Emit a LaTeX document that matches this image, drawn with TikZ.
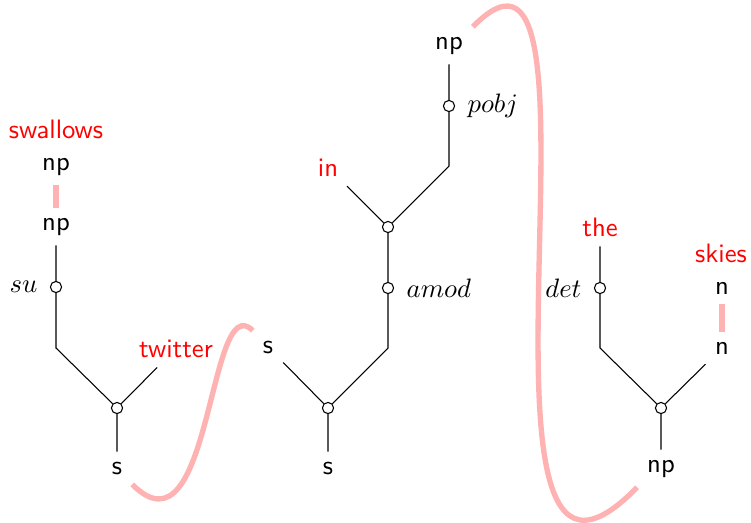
\documentclass[tikz,border=0pt]{standalone}
\usetikzlibrary{calc}
\tikzset{
  x=0.375pt, y=-0.375pt,
  word/.style={font=\sffamily, inner sep=3.6pt, anchor=base},
  redword/.style={word, text=red},
  dot/.style={circle, draw, fill=white, inner sep=0pt, minimum size=4.2pt, line width=0.4pt},
  lblL/.style={anchor=east, inner sep=0pt},
  lblR/.style={anchor=west, inner sep=0pt},
  tree/.style={line width=0.4pt},
  link/.style={draw=red!30, line width=2pt},
}
\begin{document}
\begin{tikzpicture}
\useasboundingbox (0,0) rectangle (751,522);
% ---------- left tree ----------
\node[redword] (swallows) at (56,138) {swallows};
\node[word] (np1) at (56,170) {np};
\node[word] (np2) at (56,230) {np};
\node[dot] (su) at (56,287) {};
\coordinate (k1) at (56,348);
\node[dot] (c1) at (117,408) {};
\node[redword] (twitter) at (176,357) {twitter};
\node[word] (sA) at (117,474) {s};
\node[lblL] (lsu) at ([xshift=-4.5pt]su.west) {$su$};
\draw[link] (np1) -- (np2);
\draw[tree] (np2) -- (su) -- (k1) -- (c1) -- (sA);
\draw[tree] (twitter) -- (c1);
% ---------- middle tree ----------
\node[word] (sB) at (268,353) {s};
\node[dot] (c2) at (328,408) {};
\node[word] (sC) at (328,474) {s};
\coordinate (k2) at (388,348);
\node[dot] (amod) at (388,288) {};
\node[dot] (c3) at (388,227) {};
\node[redword] (in) at (328,176) {in};
\coordinate (k3) at (449,166);
\node[dot] (pobj) at (449,106) {};
\node[word] (np3) at (449,49) {np};
\node[lblR] (lamod) at ([xshift=4.5pt]amod.east) {$amod$};
\node[lblR] (lpobj) at ([xshift=4.5pt]pobj.east) {$pobj$};
\draw[tree] (sB) -- (c2) -- (sC);
\draw[tree] (c2) -- (k2) -- (amod) -- (c3) -- (k3) -- (pobj) -- (np3);
\draw[tree] (in) -- (c3);
% ---------- right tree ----------
\node[redword] (the) at (600,236) {the};
\node[dot] (det) at (600,288) {};
\coordinate (k4) at (600,348);
\node[dot] (c4) at (661,408) {};
\node[word] (npR) at (661,472) {np};
\node[redword] (skies) at (721,262) {skies};
\node[word] (n1) at (722,294) {n};
\node[word] (n2) at (722,354) {n};
\node[lblL] (ldet) at ([xshift=-4.5pt]det.west) {$det$};
\draw[tree] (the) -- (det) -- (k4) -- (c4) -- (npR);
\draw[tree] (n2) -- (c4);
\draw[link] (n1) -- (n2);
% ---------- pink links ----------
\draw[link] (sA.south east) .. controls +(80,80) and +(-45,-45) .. (sB.north west);
\draw[link] (np3.north east) .. controls +(156,-160) and +(-199,205) .. (npR.south west);
\end{tikzpicture}
\end{document}
